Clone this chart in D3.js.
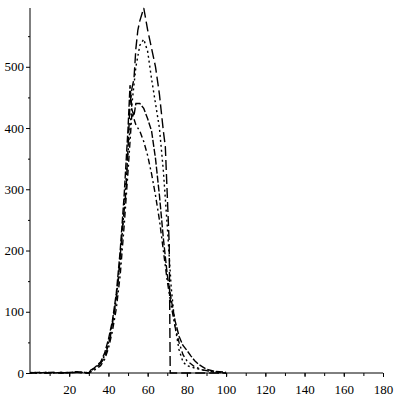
<!DOCTYPE html>
<html><head><meta charset="utf-8">
<script src="https://cdn.jsdelivr.net/npm/d3@7"></script>
<style>body{margin:0;background:#fff}svg{display:block}</style>
</head><body><svg id="c" width="400" height="400"></svg>
<script>
const xTicks = [20,40,60,80,100,120,140,160,180];
const yTicks = [0,100,200,300,400,500];

const xA = [0,4,8,12,16,20,24,28,30,31,33,35,37,39,41,43,45,47,49,50,51,52,53,54,55,56,58,60,62,64,66,68,69,70,71,71.5,74,80,90,100];
const yA = [0,1,0,1,0,1,1,0,0,5,8,12,20,35,60,100,150,230,300,370,440,465,480,530,560,575,596,560,530,500,455,395,370,290,210,0,0,0,0,0];

const xB = [0,4,8,12,16,20,24,28,30,32,34,36,38,40,42,44,46,48,50,52,54,56,58,60,62,64,66,68,70,72,74,76,78,80,84,88,95,100];
const yB = [0,0,1,0,1,0,2,0,1,4,10,16,28,50,80,120,185,270,360,440,500,535,545,525,480,440,400,330,240,140,75,38,18,12,8,5,1,0];

const xC = [0,4,8,12,16,20,24,28,30,32,34,36,38,40,42,44,46,48,50,51,52,53,54,56,58,60,62,64,66,68,70,72,74,76,78,80,82,84,86,88,90,94,100];
const yC = [1,0,1,1,0,1,2,1,0,6,12,18,32,55,85,130,200,290,400,470,430,420,440,440,432,415,395,350,290,220,160,120,85,60,45,37,28,20,14,10,6,3,1];

const xD = [0,4,8,12,16,20,24,28,30,32,34,36,38,40,42,44,46,48,50,52,54,56,58,60,62,64,66,68,70,72,74,76,78,80,84,88,94,100];
const yD = [0,1,0,0,1,0,1,1,0,3,7,12,22,40,68,105,160,240,330,425,405,395,378,355,325,290,250,200,150,110,75,50,30,20,10,5,2,0];

const series = [
  {x:xA, y:yA, dash:"10,4"},
  {x:xB, y:yB, dash:"2,3"},
  {x:xC, y:yC, dash:"7,2"},
  {x:xD, y:yD, dash:"6,3,2,3"}
];

const svg = d3.select("#c");
const x = d3.scaleLinear().domain([0,180]).range([30,383]);
const y = d3.scaleLinear().domain([0,596]).range([373,8]);

const gx = svg.append("g").attr("transform","translate(0,373)")
  .call(d3.axisBottom(x).tickValues(d3.range(10,181,10)).tickSize(3).tickFormat(""));
gx.select(".domain").attr("d","M30,0H383");
svg.append("g").attr("transform","translate(0,373)")
  .call(d3.axisBottom(x).tickValues(xTicks).tickSize(4).tickPadding(8).tickFormat(d3.format("d")))
  .call(g=>g.select(".domain").remove());

const gy = svg.append("g").attr("transform","translate(30,0)")
  .call(d3.axisLeft(y).tickValues(d3.range(50,596,100)).tickSize(2).tickFormat(""));
gy.select(".domain").attr("d","M0,373V8");
svg.append("g").attr("transform","translate(30,0)")
  .call(d3.axisLeft(y).tickValues(yTicks).tickSize(4).tickPadding(2).tickFormat(d3.format("d")))
  .call(g=>g.select(".domain").remove());

svg.selectAll(".tick text").attr("font-family","Liberation Serif").attr("font-size",13).attr("fill","#000");
svg.selectAll(".tick line").attr("stroke","#000");
svg.selectAll(".domain").attr("stroke","#000");

const line = d3.line().x(d=>x(d[0])).y(d=>y(d[1]));
series.forEach(s=>{
  svg.append("path").datum(s.x.map((v,i)=>[v,s.y[i]]))
    .attr("d",line).attr("fill","none").attr("stroke","#000")
    .attr("stroke-width",1.4).attr("stroke-dasharray",s.dash);
});
</script></body></html>
